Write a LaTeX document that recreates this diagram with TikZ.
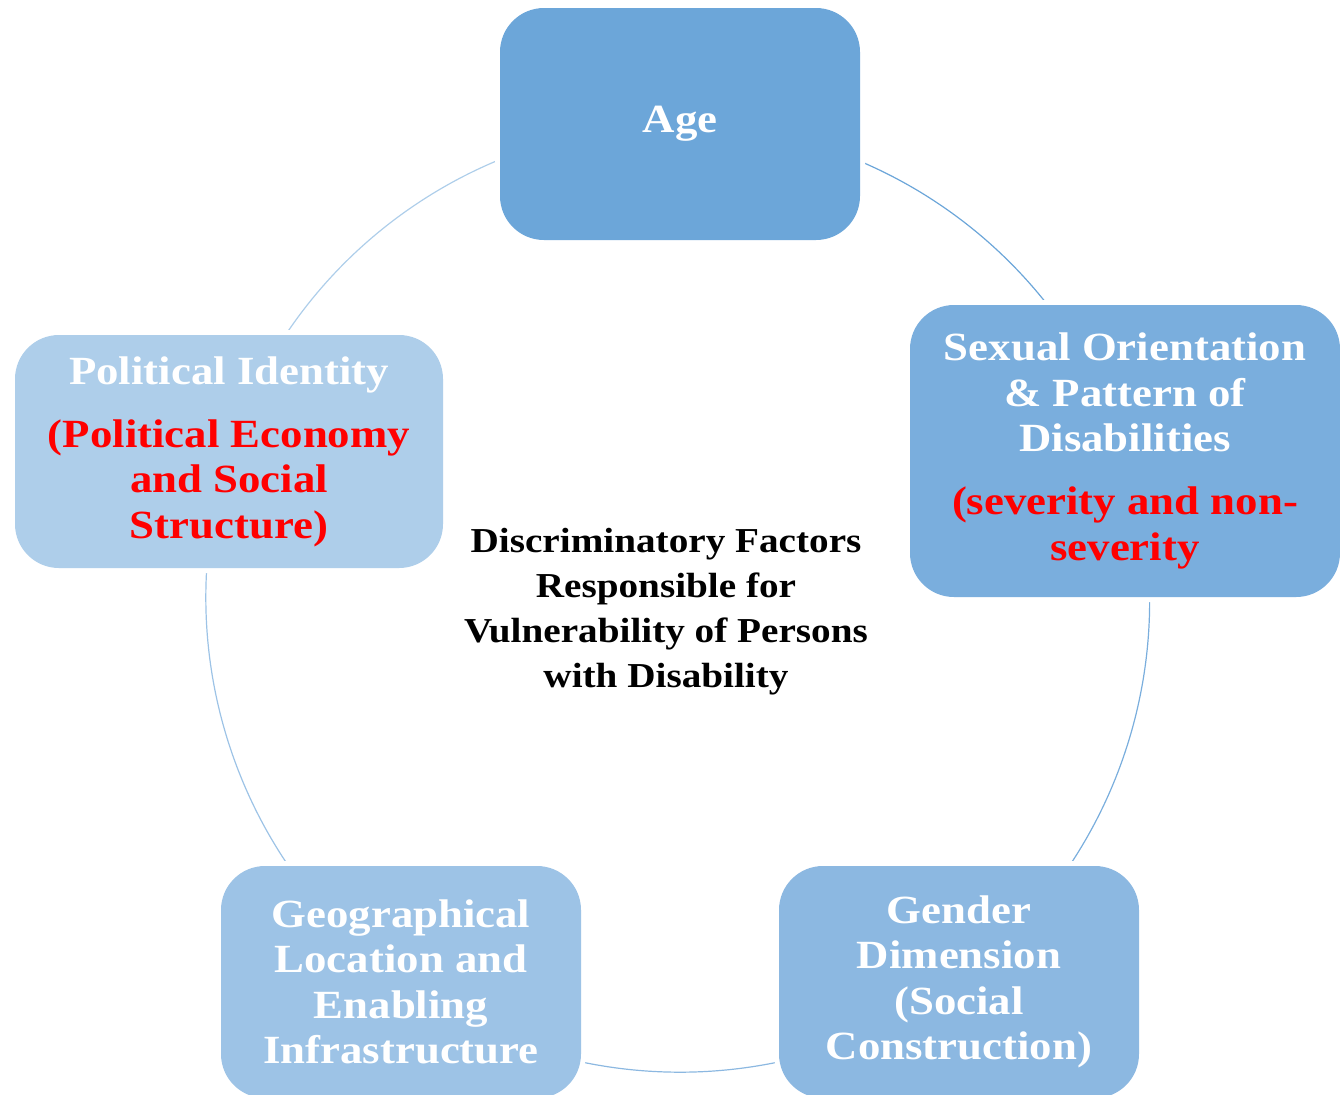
\documentclass[tikz,border=0pt]{standalone}
\usepackage{fontspec}
\setmainfont{Liberation Serif}[FakeStretch=1.12]
\usetikzlibrary{backgrounds}

\definecolor{bleuA}{HTML}{6CA6D9}
\definecolor{bleuB}{HTML}{7AAEDD}
\definecolor{bleuC}{HTML}{8CB8E1}
\definecolor{bleuD}{HTML}{9DC3E6}
\definecolor{bleuE}{HTML}{AECEEA}

\tikzset{factor/.style={fill=#1,rounded corners=22pt,inner sep=0pt,align=center,
  text=white,font=\fontsize{20}{22.75}\selectfont\bfseries,
  minimum width=180pt,minimum height=116pt,
  preaction={draw=white,line width=5pt}},
factor/.default={bleuA},
link/.style={draw=#1,line width=0.6pt}}

\begin{document}
\begin{tikzpicture}[x=0.5pt,y=-0.5pt]
\path[use as bounding box,clip] (0,0) rectangle (1340,1094);
\node [factor=bleuA] (age) at (680,124) {Age};
\node [factor=bleuB,minimum width=215pt,minimum height=146pt] (sex) at (1125,451)
	{Sexual Orientation\\ \& Pattern of\\ Disabilities\\[8.75pt]
	\textcolor{red}{(severity and non-}\\ \textcolor{red}{severity}};
\node [factor=bleuC] (gender) at (959,982)
	{Gender\\ Dimension\\ (Social\\ Construction)};
\node [factor=bleuD] (geo) at (401,982)
	{Geographical\\ Location and\\ Enabling\\ Infrastructure};
\node [factor=bleuE,minimum width=214pt,minimum height=116.5pt] (pol) at (229,451.5)
	{Political Identity\\[8.75pt]
	\textcolor{red}{(Political Economy}\\ \textcolor{red}{and Social}\\ \textcolor{red}{Structure)}};
\node [align=center,font=\fontsize{17.5}{22.5}\selectfont\bfseries] (centre) at (666,612)
	{Discriminatory Factors\\ Responsible for\\ Vulnerability of Persons\\ with Disability};
% the cycle, behind the boxes
\begin{scope}[on background layer]
\draw [link=bleuA] (age.center) to[bend left=36,looseness=0.94] (sex.center);
\draw [link=bleuB] (sex.center) to[bend left=36,looseness=0.94] (gender.center);
\draw [link=bleuC] (gender.center) to[bend left=36,looseness=0.94] (geo.center);
\draw [link=bleuD] (geo.center) to[bend left=36,looseness=0.94] (pol.center);
\draw [link=bleuE] (pol.center) to[bend left=36,looseness=0.94] (age.center);
\end{scope}
\end{tikzpicture}
\end{document}
